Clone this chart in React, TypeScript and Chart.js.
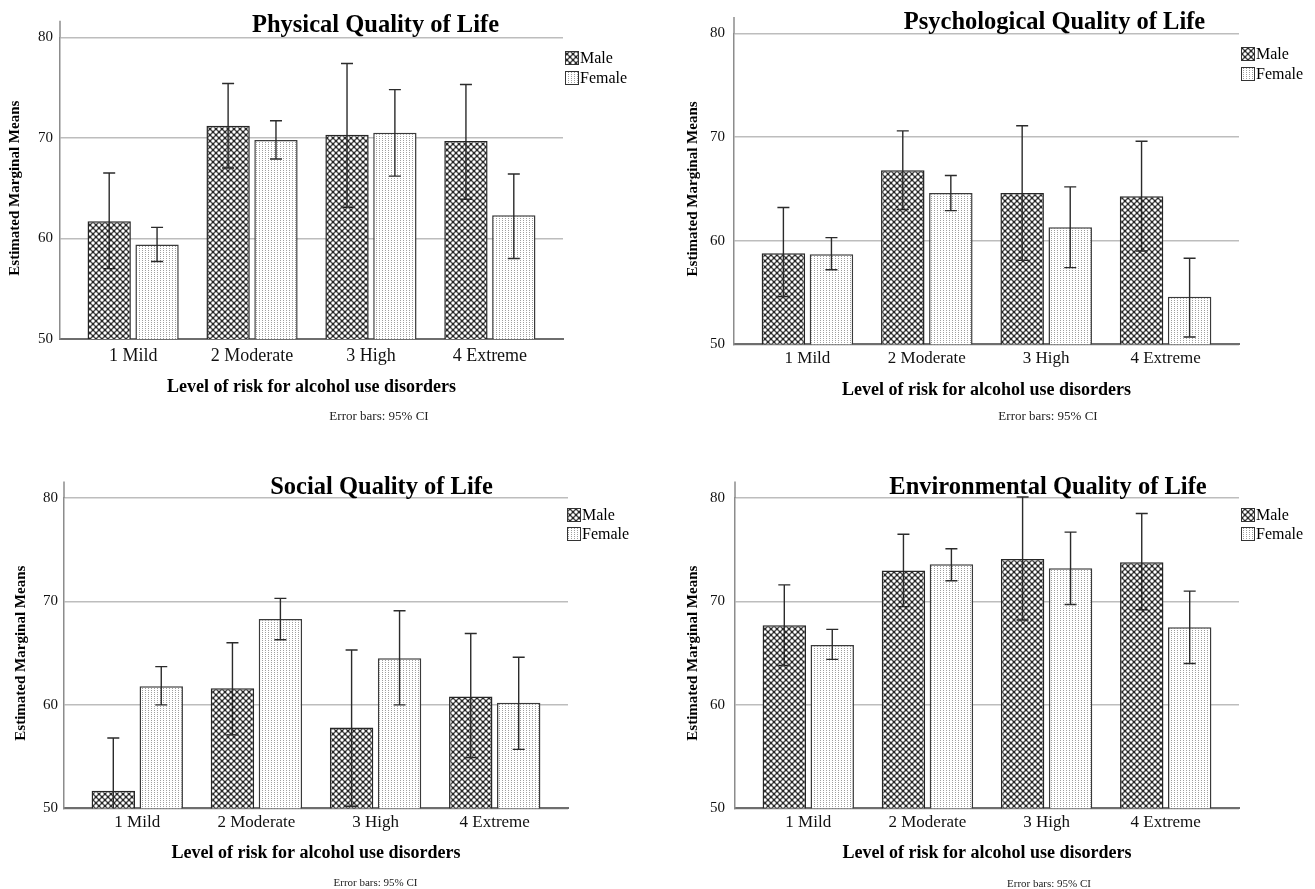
import React, { useEffect, useRef } from "react";
import { Chart, registerables } from "chart.js";

Chart.register(...registerables);

// ---------- data ----------
const categories = ["1 Mild", "2 Moderate", "3 High", "4 Extreme"];
const seriesNames = ["Male", "Female"];
const yTickValues = [50, 60, 70, 80];

const physicalMale = [61.7, 71.2, 70.3, 69.7];
const physicalMaleLow = [57.0, 67.0, 63.1, 63.9];
const physicalMaleHigh = [66.5, 75.4, 77.4, 75.3];
const physicalFemale = [59.4, 69.8, 70.5, 62.3];
const physicalFemaleLow = [57.7, 67.9, 66.2, 58.0];
const physicalFemaleHigh = [61.1, 71.7, 74.8, 66.4];

const psychMale = [58.8, 66.8, 64.6, 64.3];
const psychMaleLow = [54.6, 63.0, 58.1, 59.0];
const psychMaleHigh = [63.2, 70.6, 71.1, 69.6];
const psychFemale = [58.7, 64.6, 61.3, 54.6];
const psychFemaleLow = [57.2, 62.9, 57.4, 50.7];
const psychFemaleHigh = [60.3, 66.3, 65.2, 58.3];

const socialMale = [51.7, 61.6, 57.8, 60.8];
const socialMaleLow = [46.6, 57.1, 50.2, 54.9];
const socialMaleHigh = [56.8, 66.0, 65.3, 66.9];
const socialFemale = [61.8, 68.3, 64.5, 60.2];
const socialFemaleLow = [60.0, 66.3, 60.0, 55.7];
const socialFemaleHigh = [63.7, 70.3, 69.1, 64.6];

const envMale = [67.7, 73.0, 74.1, 73.8];
const envMaleLow = [63.8, 69.5, 68.2, 69.2];
const envMaleHigh = [71.6, 76.5, 80.1, 78.5];
const envFemale = [65.8, 73.6, 73.2, 67.5];
const envFemaleLow = [64.4, 72.0, 69.7, 64.0];
const envFemaleHigh = [67.3, 75.1, 76.7, 71.0];

const titles = [
  "Physical Quality of Life",
  "Psychological Quality of Life",
  "Social Quality of Life",
  "Environmental Quality of Life",
];
const xAxisTitle = "Level of risk for alcohol use disorders";
const yAxisTitle = "Estimated Marginal Means";
const footnote = "Error bars: 95% CI";

// ---------- layout (page coordinates) ----------
type PanelSpec = {
  title: string;
  male: number[]; maleLow: number[]; maleHigh: number[];
  female: number[]; femaleLow: number[]; femaleHigh: number[];
  x: number; y: number; w: number; h: number;
  areaLeft: number; areaTop: number; areaRight: number; areaBottom: number;
  xAxisH: number; yTitlePad: number; yTickPad: number;
  xTickSize: number; xTickPad: number;
  titleX: number; titleY: number;
  legendX: number; legendY1: number; legendY2: number;
  noteX: number; noteY: number; noteSize: number;
};

const panels: PanelSpec[] = [
  {
    title: titles[0],
    male: physicalMale, maleLow: physicalMaleLow, maleHigh: physicalMaleHigh,
    female: physicalFemale, femaleLow: physicalFemaleLow, femaleHigh: physicalFemaleHigh,
    x: 0, y: 0, w: 657, h: 440,
    areaLeft: 60, areaTop: 37.3, areaRight: 563, areaBottom: 339,
    xAxisH: 58.8, yTitlePad: 6, yTickPad: 7, xTickSize: 18, xTickPad: 6,
    titleX: 375.5, titleY: 31.7,
    legendX: 565, legendY1: 51, legendY2: 71,
    noteX: 379, noteY: 417, noteSize: 13,
  },
  {
    title: titles[1],
    male: psychMale, maleLow: psychMaleLow, maleHigh: psychMaleHigh,
    female: psychFemale, femaleLow: psychFemaleLow, femaleHigh: psychFemaleHigh,
    x: 657, y: 0, w: 658, h: 440,
    areaLeft: 734, areaTop: 33.5, areaRight: 1239, areaBottom: 344.3,
    xAxisH: 56.5, yTitlePad: 27, yTickPad: 9, xTickSize: 17, xTickPad: 4.5,
    titleX: 1054.5, titleY: 29.3,
    legendX: 1241, legendY1: 47, legendY2: 67,
    noteX: 1048, noteY: 416.7, noteSize: 13,
  },
  {
    title: titles[2],
    male: socialMale, maleLow: socialMaleLow, maleHigh: socialMaleHigh,
    female: socialFemale, femaleLow: socialFemaleLow, femaleHigh: socialFemaleHigh,
    x: 0, y: 440, w: 657, h: 449,
    areaLeft: 64, areaTop: 498, areaRight: 568, areaBottom: 808.3,
    xAxisH: 55.5, yTitlePad: 12, yTickPad: 6, xTickSize: 17, xTickPad: 4,
    titleX: 381.5, titleY: 494,
    legendX: 567, legendY1: 508, legendY2: 527,
    noteX: 375.5, noteY: 883, noteSize: 11,
  },
  {
    title: titles[3],
    male: envMale, maleLow: envMaleLow, maleHigh: envMaleHigh,
    female: envFemale, femaleLow: envFemaleLow, femaleHigh: envFemaleHigh,
    x: 657, y: 440, w: 658, h: 449,
    areaLeft: 735, areaTop: 498, areaRight: 1239, areaBottom: 808.3,
    xAxisH: 55.5, yTitlePad: 27, yTickPad: 10, xTickSize: 17, xTickPad: 4,
    titleX: 1048, titleY: 494,
    legendX: 1241, legendY1: 508, legendY2: 527,
    noteX: 1049, noteY: 884, noteSize: 11,
  },
];

const FONT = '"Liberation Serif", "Times New Roman", serif';

function makeMalePattern(ctx: CanvasRenderingContext2D): CanvasPattern {
  // dark diagonal lattice with white openings (SPSS crosshatch look)
  const c = document.createElement("canvas");
  const s = 6;
  c.width = s;
  c.height = s;
  const g = c.getContext("2d")!;
  g.fillStyle = "#262626";
  g.fillRect(0, 0, s, s);
  g.fillStyle = "#ffffff";
  const centres = [
    [0, 0], [s, 0], [0, s], [s, s], [s / 2, s / 2],
  ];
  for (const [cx, cy] of centres) {
    g.beginPath();
    g.arc(cx, cy, 1.75, 0, Math.PI * 2);
    g.fill();
  }
  return ctx.createPattern(c, "repeat")!;
}

function makeFemalePattern(ctx: CanvasRenderingContext2D): CanvasPattern {
  const c = document.createElement("canvas");
  c.width = 3;
  c.height = 2;
  const g = c.getContext("2d")!;
  g.fillStyle = "#ffffff";
  g.fillRect(0, 0, 3, 2);
  g.fillStyle = "#a0a0a0";
  g.fillRect(1, 0, 1, 1);
  return ctx.createPattern(c, "repeat")!;
}

function PanelChart({ p }: { p: PanelSpec }) {
  const ref = useRef<HTMLCanvasElement | null>(null);

  useEffect(() => {
    const canvas = ref.current;
    if (!canvas) return;
    const ctx = canvas.getContext("2d")!;
    const malePat = makeMalePattern(ctx);
    const femalePat = makeFemalePattern(ctx);

    const errorBars = {
      id: "errorBars",
      afterDatasetsDraw(chart: any) {
        const c = chart.ctx as CanvasRenderingContext2D;
        const yScale = chart.scales.y;
        const area = chart.chartArea;
        c.save();
        c.strokeStyle = "#2b2b2b";
        c.lineWidth = 1.4;
        chart.data.datasets.forEach((ds: any, di: number) => {
          const meta = chart.getDatasetMeta(di);
          meta.data.forEach((bar: any, i: number) => {
            const x = bar.x;
            const yHi = yScale.getPixelForValue(ds.errorHigh[i]);
            let yLo = yScale.getPixelForValue(ds.errorLow[i]);
            const loCap = yLo <= area.bottom;
            if (!loCap) yLo = area.bottom;
            c.beginPath();
            c.moveTo(x, yHi);
            c.lineTo(x, yLo);
            c.moveTo(x - 6, yHi);
            c.lineTo(x + 6, yHi);
            if (loCap) {
              c.moveTo(x - 6, yLo);
              c.lineTo(x + 6, yLo);
            }
            c.stroke();
          });
        });
        c.restore();
      },
    };

    const decor = {
      id: "decor",
      afterDraw(chart: any) {
        const c = chart.ctx as CanvasRenderingContext2D;
        const area = chart.chartArea;
        c.save();
        // y axis extends a little above the top tick
        c.strokeStyle = "#8c8c8c";
        c.lineWidth = 1.5;
        c.beginPath();
        c.moveTo(area.left, area.top - 16.5);
        c.lineTo(area.left, area.top);
        c.stroke();
        // title
        c.fillStyle = "#000";
        c.textAlign = "center";
        c.textBaseline = "alphabetic";
        c.font = `bold 24.5px ${FONT}`;
        c.fillText(p.title, p.titleX - p.x, p.titleY - p.y);
        // legend
        const pats = [malePat, femalePat];
        const ys = [p.legendY1, p.legendY2];
        c.font = `16px ${FONT}`;
        c.textAlign = "left";
        c.textBaseline = "middle";
        seriesNames.forEach((name, i) => {
          const bx = p.legendX - p.x;
          const by = ys[i] - p.y;
          c.fillStyle = pats[i];
          c.fillRect(bx, by, 14, 14);
          c.strokeStyle = "#333";
          c.lineWidth = 1;
          c.strokeRect(bx + 0.5, by + 0.5, 13, 13);
          c.fillStyle = "#000";
          c.fillText(name, bx + 15, by + 7.5);
        });
        // footnote
        c.font = `${p.noteSize}px ${FONT}`;
        c.textAlign = "center";
        c.fillStyle = "#222";
        c.fillText(footnote, p.noteX - p.x, p.noteY - p.y);
        c.restore();
      },
    };

    const toPoints = (vals: number[]) => vals.map((v, i) => ({ x: i + 1, y: v }));

    const chart = new Chart(canvas, {
      type: "bar",
      data: {
        datasets: [
          {
            label: seriesNames[0],
            data: toPoints(p.male),
            backgroundColor: malePat,
            borderColor: "#262626",
            borderWidth: 1.5,
            borderSkipped: false,
            categoryPercentage: 0.805,
            barPercentage: 0.905,
            errorLow: p.maleLow,
            errorHigh: p.maleHigh,
          } as any,
          {
            label: seriesNames[1],
            data: toPoints(p.female),
            backgroundColor: femalePat,
            borderColor: "#3a3a3a",
            borderWidth: 1.5,
            borderSkipped: false,
            categoryPercentage: 0.805,
            barPercentage: 0.905,
            errorLow: p.femaleLow,
            errorHigh: p.femaleHigh,
          } as any,
        ],
      },
      options: {
        responsive: false,
        animation: false,
        events: [],
        layout: {
          padding: {
            left: 0,
            top: p.areaTop - p.y,
            right: p.x + p.w - p.areaRight,
            bottom: p.y + p.h - p.areaBottom - p.xAxisH,
          },
        },
        plugins: {
          legend: { display: false },
          title: { display: false },
          tooltip: { enabled: false },
        },
        scales: {
          x: {
            type: "linear",
            offset: false,
            min: 0.385,
            max: 4.615,
            afterBuildTicks: (s: any) => {
              s.ticks = categories.map((_, i) => ({ value: i + 1 }));
            },
            afterFit: (s: any) => {
              s.height = p.xAxisH;
            },
            grid: { display: false, drawTicks: false, offset: false },
            border: { display: true, color: "#6e6e6e", width: 2 },
            ticks: {
              callback: (v: any) => categories[Math.round(Number(v)) - 1] ?? "",
              font: { family: FONT, size: p.xTickSize },
              color: "#111",
              padding: p.xTickPad,
              autoSkip: false,
              maxRotation: 0,
            },
            title: {
              display: true,
              text: xAxisTitle,
              color: "#000",
              font: { family: FONT, size: 18, weight: "bold" },
              padding: { top: 0, bottom: 0 },
            },
          },
          y: {
            type: "linear",
            min: 50,
            max: 80,
            afterBuildTicks: (s: any) => {
              s.ticks = yTickValues.map((v) => ({ value: v }));
            },
            afterFit: (s: any) => {
              s.width = p.areaLeft - p.x;
            },
            grid: { color: "#bdbdbd", lineWidth: 1.5, drawTicks: false },
            border: { display: true, color: "#8c8c8c", width: 1.5 },
            ticks: {
              font: { family: FONT, size: 15 },
              color: "#111",
              padding: p.yTickPad,
            },
            title: {
              display: true,
              text: yAxisTitle,
              color: "#000",
              font: { family: FONT, size: 15, weight: "bold" },
              padding: { top: p.yTitlePad, bottom: 0 },
            },
          },
        },
      } as any,
      plugins: [errorBars, decor],
    });

    return () => chart.destroy();
  }, [p]);

  return (
    <canvas
      ref={ref}
      width={p.w}
      height={p.h}
      style={{ position: "absolute", left: p.x, top: p.y, width: p.w, height: p.h }}
    />
  );
}

export default function App() {
  return (
    <div
      style={{
        position: "absolute",
        left: 0,
        top: 0,
        width: 1315,
        height: 889,
        overflow: "hidden",
        background: "#ffffff",
      }}
    >
      {panels.map((p, i) => (
        <PanelChart key={i} p={p} />
      ))}
    </div>
  );
}
